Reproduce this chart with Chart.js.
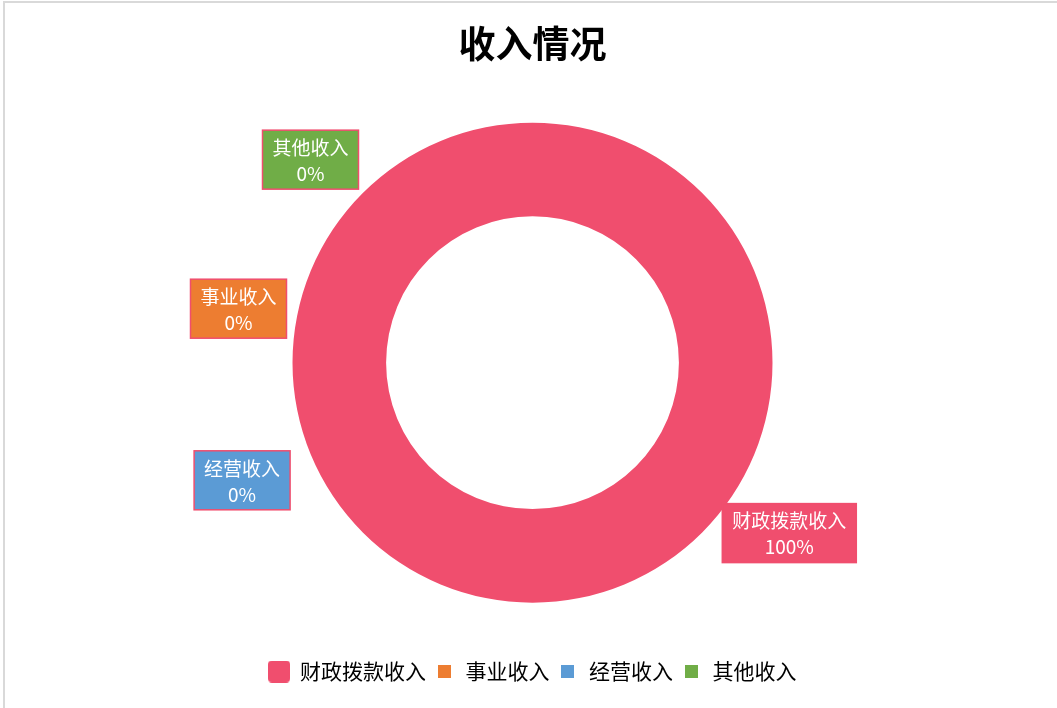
<!DOCTYPE html>
<html>
<head>
<meta charset="utf-8">
<script src="https://cdn.jsdelivr.net/npm/chart.js@4"></script>
<style>
  html, body { margin: 0; padding: 0; background: #fff; }
  #wrap {
    position: absolute; left: 3px; top: 1px;
    width: 1060px; height: 712px;
    border: 2px solid #d9d9d9; box-sizing: border-box;
  }
  #chart { position: absolute; left: -5px; top: -3px; }
</style>
</head>
<body>
<div id="wrap"><canvas id="chart" width="1057" height="708"></canvas></div>
<script>
const categories = ["财政拨款收入", "事业收入", "经营收入", "其他收入"];
const values = [100, 0, 0, 0];
const percentLabels = ["100%", "0%", "0%", "0%"];
const colors = ["#F04E6E", "#ED7D31", "#5B9BD5", "#70AD47"];
// where each callout sits, in units of the outer radius from the centre
const calloutOffsets = [[1.07, 0.71], [-1.225, -0.225], [-1.21, 0.49], [-0.925, -0.846]];

const cjk = '"Noto Sans CJK SC", "Noto Sans", sans-serif';

function legendMark(color, size, round) {
  const c = document.createElement("canvas");
  c.width = size; c.height = size;
  const g = c.getContext("2d");
  g.fillStyle = color;
  g.beginPath();
  if (round) g.roundRect(0, 0, size, size, 4);
  else g.rect(0, 0, size, size);
  g.fill();
  return c;
}
const marks = colors.map((c, i) => i === 0 ? legendMark(c, 22, true) : legendMark(c, 13, false));

const callouts = {
  id: "callouts",
  afterDatasetsDraw(chart) {
    const ctx = chart.ctx;
    const arc = chart.getDatasetMeta(0).data[0];
    const cx = arc.x, cy = arc.y, r = arc.outerRadius;
    ctx.save();
    ctx.font = "19px " + cjk;
    ctx.textAlign = "center";
    ctx.textBaseline = "middle";
    categories.forEach((name, i) => {
      const x = cx + calloutOffsets[i][0] * r;
      const y = cy + calloutOffsets[i][1] * r;
      const w = ctx.measureText(name).width + 20;
      const h = 59;
      ctx.fillStyle = colors[i];
      ctx.fillRect(x - w / 2, y - h / 2, w, h);
      ctx.strokeStyle = "#F04E6E";
      ctx.lineWidth = 1.5;
      ctx.strokeRect(x - w / 2, y - h / 2, w, h);
      ctx.fillStyle = "#fff";
      ctx.fillText(name, x, y - 12);
      ctx.fillText(percentLabels[i], x, y + 14);
    });
    ctx.restore();
  }
};

new Chart(document.getElementById("chart"), {
  type: "doughnut",
  data: {
    labels: categories,
    datasets: [
      {
        data: values,
        backgroundColor: colors,
        borderWidth: 0,
        radius: 240,
        cutout: "61%",
      },
    ],
  },
  options: {
    responsive: false,
    animation: false,
    layout: { padding: { top: 0, bottom: 16, left: 8 } },
    plugins: {
      title: {
        display: true,
        text: "收入情况",
        color: "#000",
        font: { size: 37, weight: "bold", family: cjk },
        padding: { top: 22, bottom: 6 },
      },
      legend: {
        position: "bottom",
        labels: {
          color: "#595959",
          font: { size: 21, family: cjk },
          usePointStyle: true,
          padding: 8,
          generateLabels: (chart) => categories.map((name, i) => ({
            text: name,
            pointStyle: marks[i],
            fillStyle: colors[i],
            strokeStyle: colors[i],
            lineWidth: 0,
            hidden: false,
            index: i,
          })),
        },
      },
      tooltip: { enabled: false },
    },
  },
  plugins: [callouts],
});
</script>
</body>
</html>
